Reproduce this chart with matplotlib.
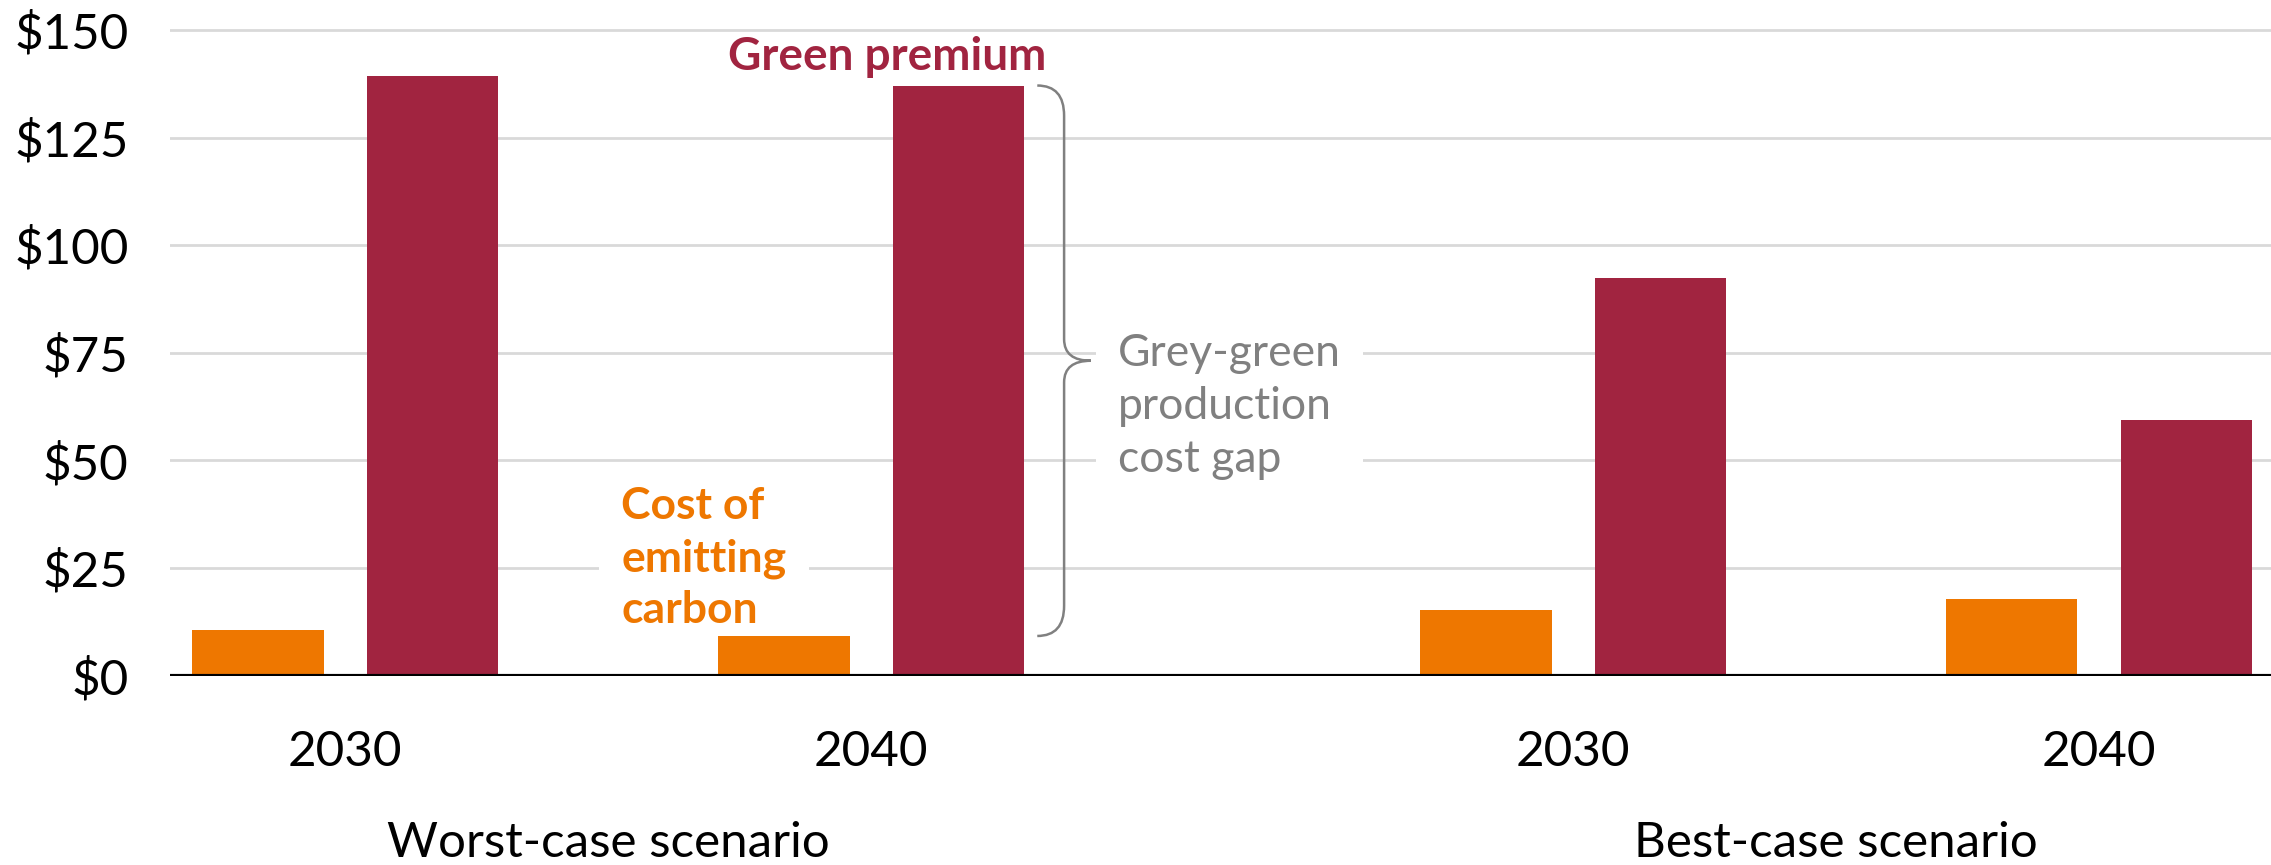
import matplotlib.pyplot as plt
from matplotlib.path import Path
from matplotlib.patches import PathPatch
from matplotlib.transforms import blended_transform_factory

plt.rcParams['font.family'] = ['Lato', 'DejaVu Sans']

# data (USD)
years = ['2030', '2040', '2030', '2040']
scenarios = ['Worst-case scenario', 'Best-case scenario']
cost_of_carbon = [10.5, 9.2, 15.2, 17.7]
green_premium = [139.3, 137.1, 92.3, 59.4]
y_ticks = [0, 25, 50, 75, 100, 125, 150]

orange = '#EE7700'
crimson = '#A12440'
grey = '#808080'

# group positions, with a wider gap between the two scenarios
x_pos = [0, 1, 2.335, 3.335]
w = 0.25
off = 0.166

fig = plt.figure(figsize=(22.71, 8.65), dpi=100)
ax = fig.add_axes([0.0749, 0.219, 0.9251, 0.7513])

ax.bar([p - off for p in x_pos], cost_of_carbon, width=w, color=orange, zorder=3)
ax.bar([p + off for p in x_pos], green_premium, width=w, color=crimson, zorder=3)

ax.set_xlim(-0.333, 3.662)
ax.set_ylim(0, 151)
for s in ax.spines.values():
    s.set_visible(False)

ax.set_yticks(y_ticks)
ax.set_yticklabels(['$' + str(v) for v in y_ticks], fontsize=35.5)
ax.set_xticks(x_pos)
ax.set_xticklabels(years, fontsize=35.5)
ax.tick_params(axis='y', length=0, pad=30)
ax.tick_params(axis='x', length=0, pad=39)

ax.set_axisbelow(True)
ax.yaxis.grid(True, color='#d9d9d9', linewidth=2)
ax.axhline(0, color='black', linewidth=3, zorder=4)

# scenario labels under the years
trans = blended_transform_factory(ax.transData, ax.transAxes)
ax.text((x_pos[0] + x_pos[1]) / 2, -0.2577, scenarios[0], transform=trans,
        ha='center', va='center', fontsize=35.5)
ax.text((x_pos[2] + x_pos[3]) / 2, -0.2577, scenarios[1], transform=trans,
        ha='center', va='center', fontsize=35.5)

# annotations
box = dict(facecolor='white', edgecolor='none', boxstyle='square,pad=0.5')
ax.text(1.03, 140.7, 'Green premium', color=crimson, fontweight='bold',
        fontsize=33, ha='center', va='baseline')
ax.text(0.525, 44, 'Cost of\nemitting\ncarbon', color=orange, fontweight='bold',
        fontsize=32, ha='left', va='top', linespacing=1.36, bbox=box, zorder=2)
ax.text(1.47, 79.5, 'Grey-green\nproduction\ncost gap', color=grey,
        fontsize=32, ha='left', va='top', linespacing=1.36, bbox=box, zorder=2)

# curly brace spanning the gap for 2040 worst case
top = green_premium[1]
bot = cost_of_carbon[1]
mid = (top + bot) / 2
x0, x1, x2 = 1.316, 1.367, 1.418
r = 7
verts = [(x0, top), (x1, top), (x1, top - r),
         (x1, mid + 5), (x1, mid), (x2, mid),
         (x1, mid), (x1, mid - 5),
         (x1, bot + r), (x1, bot), (x0, bot)]
codes = [Path.MOVETO, Path.CURVE3, Path.CURVE3,
         Path.LINETO, Path.CURVE3, Path.CURVE3,
         Path.CURVE3, Path.CURVE3,
         Path.LINETO, Path.CURVE3, Path.CURVE3]
ax.add_patch(PathPatch(Path(verts, codes), facecolor='none', edgecolor=grey,
                       linewidth=1.8, zorder=4, clip_on=False))

plt.savefig('out.png', dpi=100)
